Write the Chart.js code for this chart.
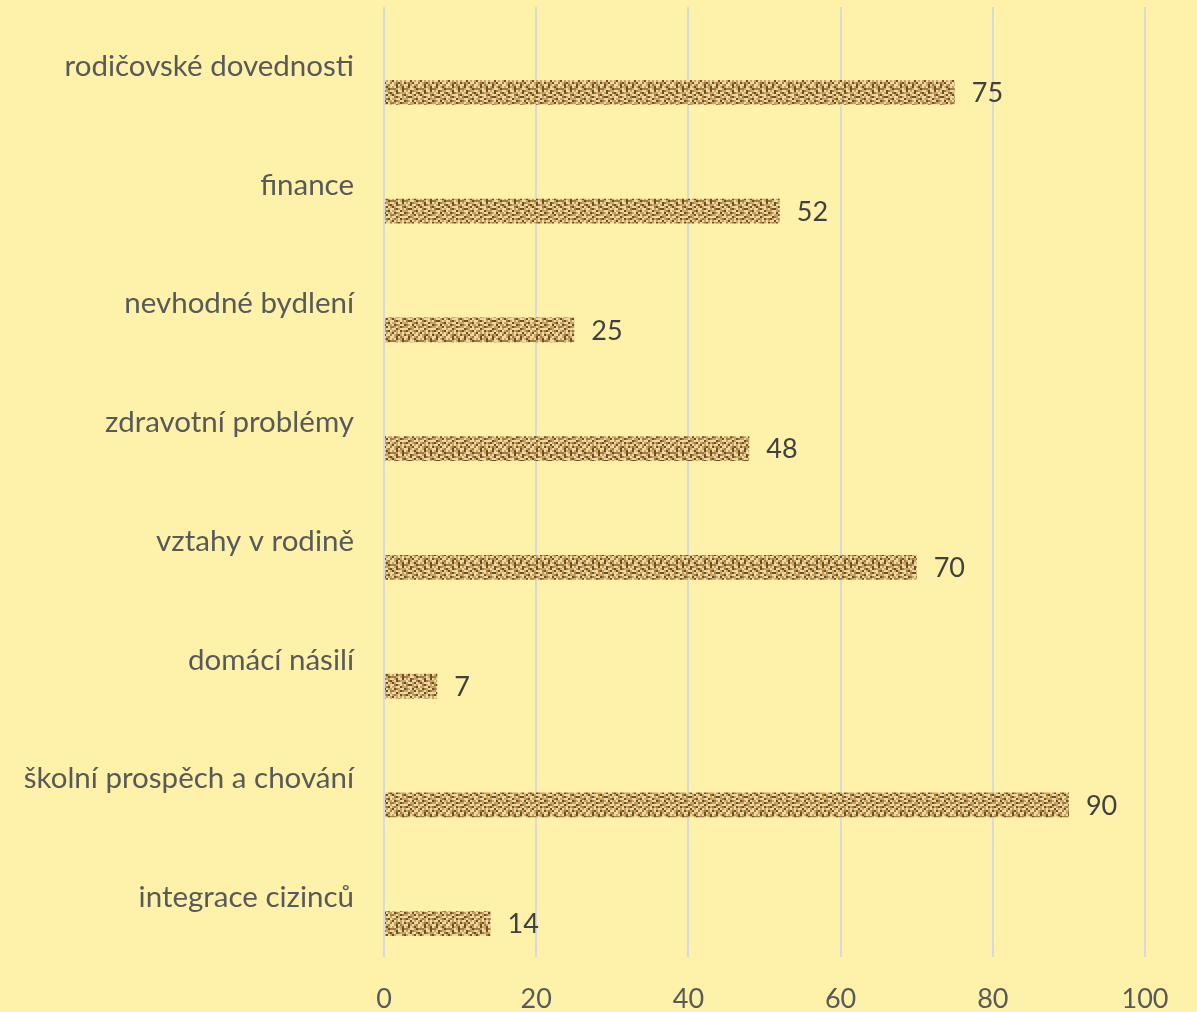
<!DOCTYPE html>
<html>
<head>
<meta charset="utf-8">
<script src="https://cdn.jsdelivr.net/npm/chart.js@4.4.1/dist/chart.umd.min.js"></script>
<style>
  html, body { margin: 0; padding: 0; background: #fef2aa; }
  #wrap { width: 1197px; height: 1012px; }
</style>
</head>
<body>
<div id="wrap"><canvas id="chart"></canvas></div>
<script>
const categories = [
  "rodičovské dovednosti",
  "finance",
  "nevhodné bydlení",
  "zdravotní problémy",
  "vztahy v rodině",
  "domácí násilí",
  "školní prospěch a chování",
  "integrace cizinců"
];
const values = [75, 52, 25, 48, 70, 7, 90, 14];
const emptySeries = categories.map(() => null);
const xTicks = [0, 20, 40, 60, 80, 100];

// burlap-like weave for the bars (l = light, m = tan, d = dark, b = brown)
function burlap() {
  const rows = [
    "lmdlbmlldmlmbl",
    "mldmmdlmdlmdml",
    "bbmlmdbbmllmdb",
    "lmdlldlmldbmml",
    "mldbmmmlmdllbd",
    "dmlllbdmllmdlm",
    "lbdmlmlbddmlml",
    "mmlldmmmllmbdl",
    "ldbmlldbmldlmm",
    "bmlmdbmmlmmdlb",
    "lldmlllldbmllm",
    "mbmldmbdmlmbdl",
    "dlmlmlmlldlmlm",
    "lmbdmldmbmdllb"
  ];
  const col = { l: '#efd9a2', m: '#caa464', d: '#6f4f1f', b: '#a07c42' };
  const c = document.createElement('canvas');
  c.width = 28; c.height = 28;
  const g = c.getContext('2d');
  rows.forEach((r, y) => [...r].forEach((ch, x) => {
    g.fillStyle = col[ch];
    g.fillRect(x * 2, y * 2, 2, 2);
  }));
  return g.createPattern(c, 'repeat');
}

const valueLabels = {
  id: 'valueLabels',
  afterDatasetsDraw(chart) {
    const ctx = chart.ctx;
    const meta = chart.getDatasetMeta(1);
    ctx.save();
    ctx.font = '27px Lato, "Open Sans", sans-serif';
    ctx.fillStyle = '#404040';
    ctx.textAlign = 'left';
    ctx.textBaseline = 'middle';
    meta.data.forEach((bar, i) => {
      ctx.fillText(String(values[i]), bar.x + 17, bar.y + 1);
    });
    ctx.restore();
  }
};

new Chart(document.getElementById('chart'), {
  type: 'bar',
  data: {
    labels: categories,
    datasets: [
      { data: emptySeries, backgroundColor: 'transparent' },
      { data: values, backgroundColor: burlap(), borderWidth: 0 }
    ]
  },
  options: {
    indexAxis: 'y',
    responsive: true,
    maintainAspectRatio: false,
    animation: false,
    categoryPercentage: 0.876,
    barPercentage: 0.48,
    layout: { padding: { top: 7, right: 52, left: 0, bottom: 0 } },
    plugins: { legend: { display: false }, tooltip: { enabled: false } },
    scales: {
      x: {
        min: 0, max: 100,
        afterBuildTicks: s => { s.ticks = xTicks.map(v => ({ value: v })); },
        afterFit: s => { s.height = 55; s.paddingLeft = 0; s.paddingRight = 0; },
        grid: { color: '#d9d9d9', lineWidth: 2, drawTicks: false },
        border: { display: false },
        ticks: { color: '#595959', font: { family: 'Lato, "Open Sans", sans-serif', size: 27 }, padding: 26 }
      },
      y: {
        afterFit: s => { s.width = 384; s.paddingTop = 0; s.paddingBottom = 0; },
        grid: { display: false },
        border: { display: false },
        ticks: { color: '#595959', font: { family: 'Lato, "Open Sans", sans-serif', size: 29.5 }, padding: 22 }
      }
    }
  },
  plugins: [valueLabels]
});
</script>
</body>
</html>
